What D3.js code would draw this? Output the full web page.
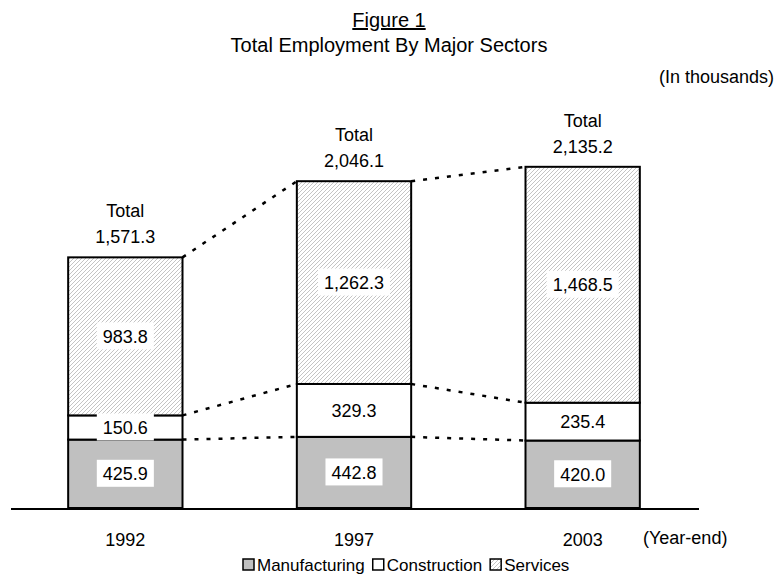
<!DOCTYPE html>
<html>
<head>
<meta charset="utf-8">
<script src="https://cdn.jsdelivr.net/npm/d3@7"></script>
<style>
  body { margin: 0; background: #fff; }
  text { font-family: "Liberation Sans", Arial, sans-serif; fill: #000; }
</style>
</head>
<body>
<svg id="chart"></svg>
<script>
const years = ['1992', '1997', '2003'];
const sectors = ['Manufacturing', 'Construction', 'Services'];
const manufacturing = [425.9, 442.8, 420.0];
const construction = [150.6, 329.3, 235.4];
const services = [983.8, 1262.3, 1468.5];
const totals = ['1,571.3', '2,046.1', '2,135.2'];

const width = 777;
const height = 575;
const padding = { left: 11, right: 80, top: 90, bottom: 67 };
const fontSize = 18;

const svg = d3.select('#chart')
  .attr('width', width)
  .attr('height', height);

// hatch for services
const defs = svg.append('defs');
const pat = defs.append('pattern')
  .attr('id', 'hatch')
  .attr('patternUnits', 'userSpaceOnUse')
  .attr('width', 4)
  .attr('height', 4);
pat.append('rect').attr('width', 4).attr('height', 4).attr('fill', '#fff');
pat.append('path')
  .attr('d', 'M-1,1 l2,-2 M0,4 l4,-4 M3,5 l2,-2')
  .attr('stroke', '#c4c4c4')
  .attr('stroke-width', 1);

const rows = years.map((year, i) => ({
  year,
  Manufacturing: manufacturing[i],
  Construction: construction[i],
  Services: services[i],
  total: totals[i]
}));

const stacked = d3.stack().keys(sectors)(rows);

const xScale = d3.scaleBand()
  .domain(years)
  .range([padding.left, width - padding.right])
  .paddingInner(0.5)
  .paddingOuter(0.25);

const yScale = d3.scaleLinear()
  .domain([0, 2135.2])
  .range([height - padding.bottom, 165]);

const fills = { Manufacturing: '#c0c0c0', Construction: '#fff', Services: 'url(#hatch)' };

// segments
stacked.forEach(layer => {
  svg.append('g')
    .selectAll('rect')
    .data(layer)
    .join('rect')
    .attr('x', d => xScale(d.data.year))
    .attr('y', d => yScale(d[1]))
    .attr('width', xScale.bandwidth())
    .attr('height', d => yScale(d[0]) - yScale(d[1]))
    .attr('fill', fills[layer.key])
    .attr('stroke', '#000')
    .attr('stroke-width', 2);
});

// dashed connectors between neighbouring bars
const links = svg.append('g')
  .attr('stroke', '#000')
  .attr('stroke-width', 2.5)
  .attr('stroke-dasharray', '4,8')
  .attr('fill', 'none');
stacked.forEach(layer => {
  for (let i = 0; i < layer.length - 1; i++) {
    const a = layer[i], b = layer[i + 1];
    links.append('line')
      .attr('x1', xScale(a.data.year) + xScale.bandwidth())
      .attr('y1', yScale(a[1]))
      .attr('x2', xScale(b.data.year))
      .attr('y2', yScale(b[1]));
  }
});

// value labels with white boxes
const fmt = d3.format(',.1f');
stacked.forEach(layer => {
  const g = svg.append('g')
    .selectAll('g')
    .data(layer)
    .join('g')
    .attr('transform', d => `translate(${xScale(d.data.year) + xScale.bandwidth() / 2},${(yScale(d[0]) + yScale(d[1])) / 2})`);
  const box = g.append('rect')
    .attr('y', -14)
    .attr('height', 27)
    .attr('fill', '#fff');
  const txt = g.append('text')
    .attr('text-anchor', 'middle')
    .attr('dy', '0.35em')
    .attr('font-size', fontSize)
    .text(d => fmt(d[1] - d[0]));
  box.each(function(d, i) {
    const w = txt.nodes()[i].getComputedTextLength() + 12;
    d3.select(this).attr('x', -w / 2).attr('width', w);
  });
});

// totals above bars
const topLayer = stacked[stacked.length - 1];
const totalG = svg.append('g')
  .selectAll('g')
  .data(topLayer)
  .join('g')
  .attr('transform', d => `translate(${xScale(d.data.year) + xScale.bandwidth() / 2},${yScale(d[1])})`);
totalG.append('text')
  .attr('text-anchor', 'middle')
  .attr('y', -40)
  .attr('font-size', fontSize)
  .text('Total');
totalG.append('text')
  .attr('text-anchor', 'middle')
  .attr('y', -14)
  .attr('font-size', fontSize)
  .text(d => d.data.total);

// baseline axis
const xAxis = svg.append('g')
  .attr('transform', `translate(0,${height - padding.bottom + 1})`)
  .call(d3.axisBottom(xScale).tickSize(0).tickPadding(24));
xAxis.select('.domain').attr('stroke', '#000').attr('stroke-width', 2)
  .attr('d', `M${padding.left},0H${width - padding.right + 2}`);
xAxis.selectAll('.tick text')
  .attr('font-size', fontSize)
  .attr('font-family', '"Liberation Sans", Arial, sans-serif');

svg.append('text')
  .attr('x', 643)
  .attr('y', 544)
  .attr('font-size', fontSize)
  .text('(Year-end)');

// titles
svg.append('text')
  .attr('x', 389)
  .attr('y', 27)
  .attr('text-anchor', 'middle')
  .attr('font-size', 20)
  .attr('text-decoration', 'underline')
  .text('Figure 1');
svg.append('text')
  .attr('x', 389)
  .attr('y', 52)
  .attr('text-anchor', 'middle')
  .attr('font-size', 20)
  .text('Total Employment By Major Sectors');
svg.append('text')
  .attr('x', 774)
  .attr('y', 83)
  .attr('text-anchor', 'end')
  .attr('font-size', fontSize)
  .text('(In thousands)');

// legend, items laid out one after another
const legend = svg.append('g').attr('transform', 'translate(243,571)');
let lx = 0;
sectors.forEach(name => {
  legend.append('rect')
    .attr('x', lx)
    .attr('y', -12)
    .attr('width', 11)
    .attr('height', 11)
    .attr('fill', fills[name])
    .attr('stroke', '#000')
    .attr('stroke-width', 1.5);
  const t = legend.append('text')
    .attr('x', lx + 14)
    .attr('font-size', 17)
    .text(name);
  lx += 14 + t.node().getComputedTextLength() + 8;
});
</script>
</body>
</html>
